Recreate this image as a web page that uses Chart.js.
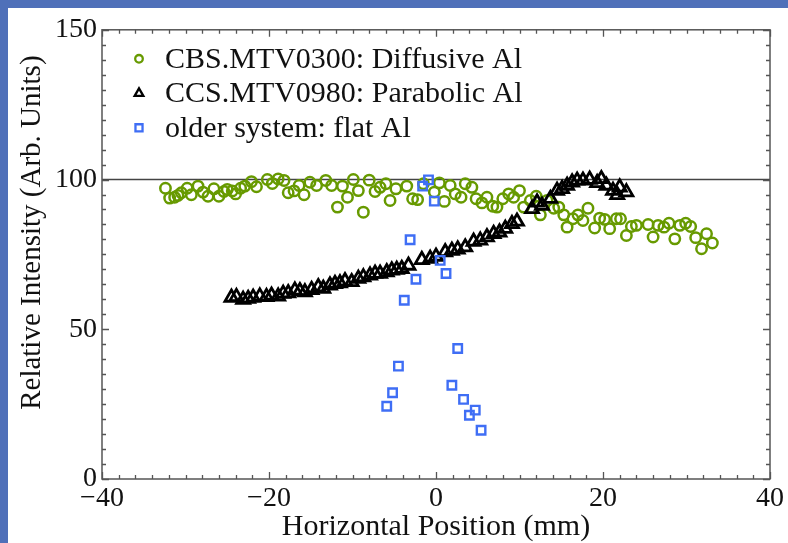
<!DOCTYPE html>
<html>
<head>
<meta charset="utf-8">
<script src="https://cdn.jsdelivr.net/npm/chart.js@4/dist/chart.umd.min.js"></script>
<style>
  html, body { margin: 0; padding: 0; }
  body { width: 788px; height: 543px; background: #4f70b9; position: relative; overflow: hidden; }
  #panel { position: absolute; left: 8px; top: 8px; width: 780px; height: 535px; background: #ffffff; }
</style>
</head>
<body>
<div id="panel"><canvas id="chart" width="780" height="535"></canvas></div>
<script>
// CBS.MTV0300: Diffusive Al (green circles)
const cbsX = [-32.4, -31.9, -31.3, -30.9, -30.5, -29.8, -29.3, -28.5, -27.9, -27.3, -26.6, -26.0, -25.4, -25.0, -24.4, -24.0,
  -23.4, -22.9, -22.1, -21.5, -20.2, -19.6, -18.9, -18.2, -17.7, -17.0, -16.4, -15.8, -15.1, -14.3, -13.2, -12.5,
  -11.8, -11.2, -10.6, -9.9, -9.3, -8.7, -8.0, -7.3, -6.7, -6.0, -5.5, -4.8, -3.5, -2.8, -2.2, -1.5,
  -0.2, 0.4, 1.0, 1.7, 2.3, 3.0, 3.5, 4.3, 4.8, 5.5, 6.1, 6.8, 7.3, 8.0, 8.7, 9.3,
  10.0, 10.5, 11.3, 12.0, 12.5, 13.3, 14.1, 14.7, 15.3, 15.7, 16.4, 17.0, 17.6, 18.2, 19.0, 19.6,
  20.2, 20.8, 21.6, 22.1, 22.8, 23.4, 24.0, 25.4, 26.0, 26.6, 27.3, 27.9, 28.6, 29.2, 29.9, 30.5,
  31.1, 31.8, 32.4, 33.1];
const cbsY = [97.1, 93.8, 94.1, 94.7, 95.6, 97.1, 94.9, 97.8, 95.8, 94.4, 96.9, 94.4, 96.0, 96.7, 96.2, 95.2,
  97.1, 97.8, 99.3, 97.6, 100.0, 98.7, 100.2, 99.7, 95.6, 96.2, 98.0, 94.9, 99.1, 98.0, 99.7, 98.0,
  90.8, 97.8, 94.1, 100.0, 96.3, 89.1, 99.8, 96.0, 97.4, 98.6, 93.0, 96.9, 97.8, 93.6, 93.3, 98.6,
  95.8, 98.9, 92.7, 98.0, 95.2, 94.1, 98.6, 97.4, 93.6, 92.2, 94.1, 91.1, 90.8, 93.6, 95.2, 94.1,
  96.3, 90.8, 93.0, 94.4, 88.2, 93.0, 90.4, 90.8, 88.2, 84.1, 86.9, 88.2, 86.3, 90.4, 83.8, 87.1,
  86.7, 83.6, 86.9, 86.9, 81.3, 84.3, 84.7, 85.0, 80.8, 84.7, 84.1, 85.4, 80.2, 84.7, 85.4, 84.3,
  80.6, 76.9, 81.9, 78.8];

// CCS.MTV0980: Parabolic Al (black triangles)
const ccsX = [-24.5, -23.9, -23.1, -22.5, -21.9, -21.1, -20.3, -19.7, -18.9, -18.3, -17.7, -16.9, -16.3, -15.7, -14.9, -14.1,
  -13.5, -12.7, -12.1, -11.5, -10.9, -10.1, -9.3, -8.7, -7.9, -7.3, -6.7, -5.9, -5.3, -4.7, -4.1, -3.3,
  -1.7, -0.7, 0.0, 1.1, 1.9, 2.6, 3.5, 4.5, 5.3, 6.1, 6.9, 7.6, 8.3, 9.1, 9.7, 11.5,
  12.1, 12.7, 13.7, 14.5, 15.1, 15.7, 16.3, 16.9, 17.6, 18.4, 19.3, 19.8, 20.4, 21.2, 21.7, 22.0,
  22.8];
const ccsY = [60.6, 60.8, 59.9, 60.2, 60.6, 61.0, 60.8, 61.3, 61.0, 61.9, 62.1, 63.0, 62.8, 62.4, 63.2, 64.1,
  63.6, 64.7, 65.2, 65.4, 66.1, 65.8, 66.9, 67.4, 68.0, 68.6, 68.6, 69.1, 69.7, 69.9, 70.2, 71.3,
  73.2, 73.6, 74.3, 75.8, 76.3, 76.7, 77.4, 79.3, 79.7, 80.8, 81.9, 82.4, 83.6, 85.2, 86.0, 90.2,
  92.4, 91.3, 93.6, 96.3, 96.9, 98.0, 99.1, 99.7, 99.7, 100.0, 98.9, 100.2, 98.0, 96.3, 94.9, 97.4,
  95.8];

// older system: flat Al (blue squares)
const oldX = [-0.9, -1.6, -0.2, -3.1, 0.5, 1.2, -2.4, -3.8, 2.6, -4.5, 1.9, -5.2, 3.3, -5.9, 4.7, 4.0, 5.4];
const oldY = [99.9, 97.8, 92.8, 79.9, 73.0, 68.6, 66.7, 59.7, 43.6, 37.7, 31.3, 28.8, 26.6, 24.3, 23.0, 21.3, 16.3];

// reference level at 100 %
const refX = [-40, 40];
const refY = [100, 100];

const seriesNames = ['CBS.MTV0300: Diffusive Al', 'CCS.MTV0980: Parabolic Al', 'older system: flat Al'];
const xTitle = 'Horizontal Position (mm)';
// leading no-break spaces push the rotated title up a little, as in the original
const yTitle = '\u00a0\u00a0\u00a0\u00a0\u00a0\u00a0Relative Intensity (Arb. Units)';

const GREEN = '#679a00';
const BLUE = '#3f6ef5';
const SERIF = '"Liberation Serif", "DejaVu Serif", serif';

const pts = (xs, ys) => xs.map((x, i) => ({ x: x, y: ys[i] }));
const minus = v => (v < 0 ? '\u2212' + Math.abs(v) : String(v));

// inward ticks on all four sides + box frame
const framePlugin = {
    id: 'frame',
    afterDraw(chart) {
        const { ctx, chartArea: a, scales } = chart;
        const xs = scales.x, ys = scales.y;
        ctx.save();
        ctx.strokeStyle = '#555';
        ctx.lineWidth = 1.3;
        ctx.beginPath();
        for (let v = -40; v <= 40; v += 2) {
            const px = Math.round(xs.getPixelForValue(v)) + 0.5;
            const len = v % 20 === 0 ? 7 : 4;
            ctx.moveTo(px, a.bottom); ctx.lineTo(px, a.bottom - len);
            ctx.moveTo(px, a.top); ctx.lineTo(px, a.top + len);
        }
        for (let v = 0; v <= 150; v += 5) {
            const py = Math.round(ys.getPixelForValue(v)) + 0.5;
            const len = v % 50 === 0 ? 7 : 4;
            ctx.moveTo(a.left, py); ctx.lineTo(a.left + len, py);
            ctx.moveTo(a.right, py); ctx.lineTo(a.right - len, py);
        }
        ctx.stroke();
        ctx.lineWidth = 1.5;
        ctx.strokeRect(a.left, a.top, a.right - a.left, a.bottom - a.top);
        ctx.restore();
    }
};

// legend drawn inside the plot, top-left
const legendPlugin = {
    id: 'insideLegend',
    afterDraw(chart) {
        const { ctx, chartArea: a } = chart;
        const rows = [
            { name: seriesNames[0], style: 'circle', color: GREEN, r: 3.8 },
            { name: seriesNames[1], style: 'triangle', color: '#000', r: 5 },
            { name: seriesNames[2], style: 'rect', color: BLUE, r: 5 },
        ];
        ctx.save();
        ctx.font = '30px ' + SERIF;
        ctx.textBaseline = 'middle';
        rows.forEach((row, i) => {
            const y = a.top + 29 + i * 34.5;
            ctx.strokeStyle = row.color;
            ctx.fillStyle = 'rgba(0,0,0,0)';
            ctx.lineWidth = 2.3;
            Chart.helpers.drawPoint(ctx, { pointStyle: row.style, radius: row.r, borderWidth: 2.3 }, a.left + 37, y);
            ctx.fillStyle = '#111';
            ctx.fillText(row.name, a.left + 63, y + 1);
        });
        ctx.restore();
    }
};

new Chart(document.getElementById('chart'), {
    type: 'scatter',
    data: {
        datasets: [
            {
                type: 'line',
                label: 'ref',
                data: pts(refX, refY),
                borderColor: '#444',
                borderWidth: 1.4,
                pointRadius: 0,
                order: 4,
            },
            {
                label: seriesNames[2],
                data: pts(oldX, oldY),
                pointStyle: 'rect',
                pointRadius: 6,
                borderColor: BLUE,
                backgroundColor: 'rgba(0,0,0,0)',
                pointBorderWidth: 2.4,
                order: 1,
            },
            {
                label: seriesNames[1],
                data: pts(ccsX, ccsY),
                pointStyle: 'triangle',
                pointRadius: 7.5,
                borderColor: '#000',
                backgroundColor: 'rgba(0,0,0,0)',
                pointBorderWidth: 2.8,
                order: 2,
            },
            {
                label: seriesNames[0],
                data: pts(cbsX, cbsY),
                pointStyle: 'circle',
                pointRadius: 5.2,
                borderColor: GREEN,
                backgroundColor: 'rgba(0,0,0,0)',
                pointBorderWidth: 2.5,
                order: 3,
            },
        ],
    },
    options: {
        responsive: false,
        animation: false,
        layout: { padding: { top: 21, right: 18, left: 0, bottom: 0 } },
        plugins: {
            legend: { display: false },
            tooltip: { enabled: false },
        },
        scales: {
            x: {
                type: 'linear',
                min: -40,
                max: 40,
                grid: { display: false, drawTicks: false },
                border: { display: false },
                ticks: {
                    stepSize: 20,
                    padding: 3,
                    color: '#111',
                    font: { family: SERIF, size: 28 },
                    callback: v => minus(v),
                },
                title: {
                    display: true,
                    text: xTitle,
                    color: '#111',
                    font: { family: SERIF, size: 30 },
                    padding: { top: 0, bottom: -2 },
                },
                afterFit: s => { s.height = 64; },
            },
            y: {
                min: 0,
                max: 150,
                grid: { display: false, drawTicks: false },
                border: { display: false },
                ticks: {
                    stepSize: 50,
                    padding: 5,
                    color: '#111',
                    font: { family: SERIF, size: 28 },
                },
                title: {
                    display: true,
                    text: yTitle,
                    color: '#111',
                    font: { family: SERIF, size: 29 },
                    padding: { top: 7, bottom: 0 },
                },
                afterFit: s => { s.width = 94; },
            },
        },
    },
    plugins: [framePlugin, legendPlugin],
});
</script>
</body>
</html>
